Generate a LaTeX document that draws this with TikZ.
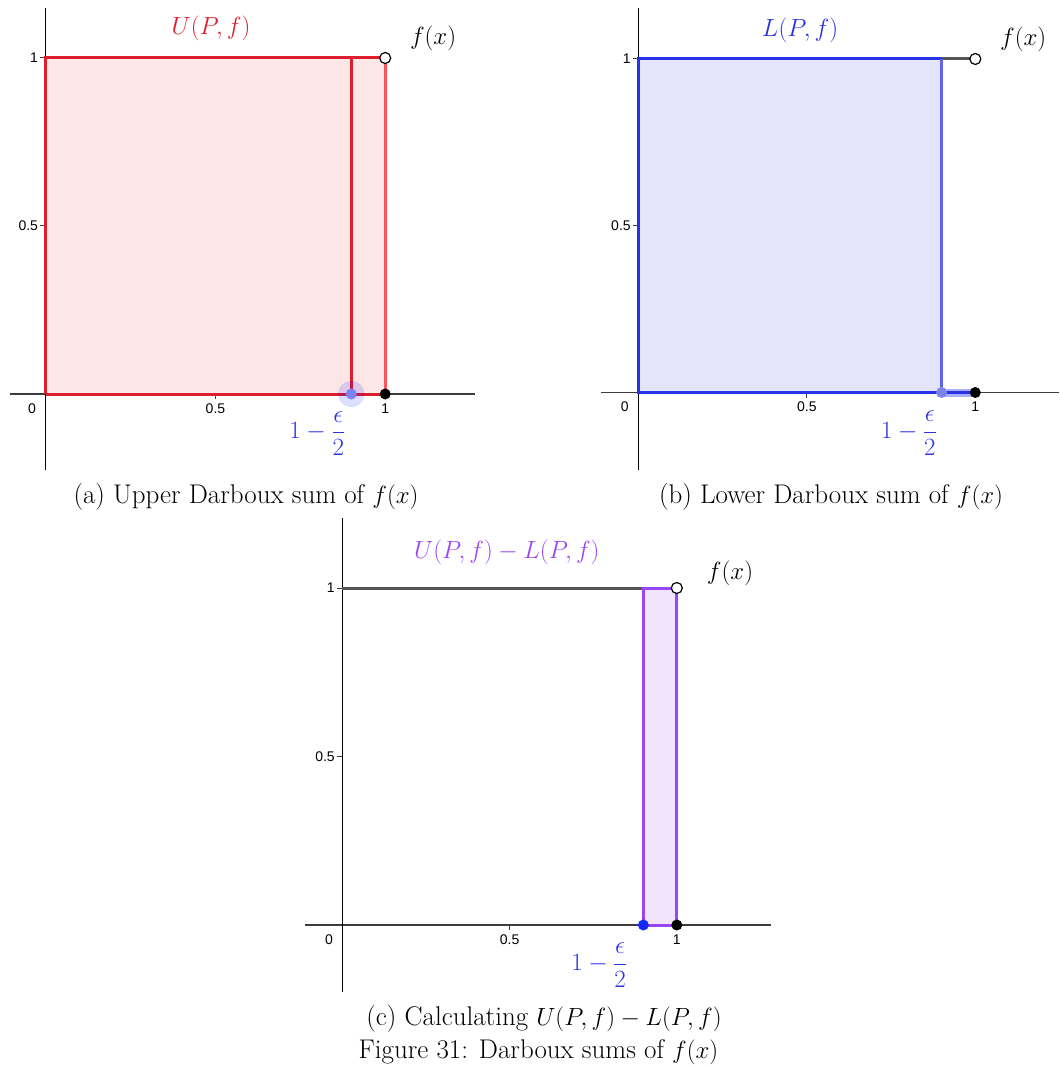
\documentclass[tikz,border=0pt]{standalone}
\usepackage{fontspec}
\newfontfamily\tickfont{Liberation Sans}
\definecolor{axisgray}{RGB}{60,60,60}
\definecolor{fgray}{RGB}{85,85,85}
\definecolor{ured}{RGB}{222,30,45}
\definecolor{ured2}{RGB}{250,85,90}
\definecolor{ufill}{RGB}{253,230,230}
\definecolor{lblue}{RGB}{40,50,230}
\definecolor{lfill}{RGB}{228,228,250}
\definecolor{ptblue}{RGB}{125,130,245}
\definecolor{hblue}{RGB}{170,172,248}
\definecolor{dblue}{RGB}{20,40,245}
\definecolor{purp}{RGB}{155,70,245}
\definecolor{pfill}{RGB}{241,228,252}
\tikzset{
  axisline/.style={draw=axisgray, line width=1.2pt},
  tickmark/.style={draw=axisgray, line width=1pt},
  ticklbl/.style={font=\tickfont\fontsize{14}{14}\selectfont, inner sep=0pt},
  mathlbl/.style={font=\fontsize{25}{27}\selectfont, inner sep=0pt},
  caplbl/.style={font=\fontsize{27}{30}\selectfont, inner sep=0pt},
  dot/.style={circle, inner sep=0pt, minimum size=11pt},
  blackdot/.style={dot, fill=black},
  opendot/.style={dot, draw=black, fill=white, line width=1.2pt},
}
\newcommand{\epsfrac}{$1-\displaystyle\frac{\epsilon}{2}$}
\begin{document}
\begin{tikzpicture}[x=1pt,y=1pt]
\useasboundingbox (0,0) rectangle (1059,-1067);

% ---------------- panel (a) ----------------
\begin{scope}[shift={(45.7pt,-394pt)}, x=339.5pt, y=336pt]
  \coordinate (a00) at (0,0); \coordinate (a01) at (0,1);
  \coordinate (ae0) at (0.9,0); \coordinate (ae1) at (0.9,1);
  \coordinate (a10) at (1,0); \coordinate (a11) at (1,1);
  \fill[ufill] (a00) rectangle (a11);
  \draw[axisline] (-0.105,0) coordinate (axl) -- (1.264,0) coordinate (axr);
  \draw[axisline, line width=1pt, draw=black] (0,-0.226) coordinate (ayb) -- (0,1.149) coordinate (ayt);
  \draw[tickmark] (0,1) -- (-0.016,1);
  \draw[tickmark] (0,0.5) -- (-0.016,0.5);
  \draw[tickmark] (0.5,0) -- (0.5,-0.016);
  \draw[ured2, line width=3pt] (ae1) -- (a11) -- (a10) -- (ae0);
  \draw[ured, line width=3pt] (a00) -- (a01) -- (a11);
  \draw[ured, line width=3pt] (a00) -- (ae0) -- (ae1);
  \draw[ured, line width=3pt] (ae0) -- (a10);
  \node[ticklbl, anchor=east] (at1) at (-0.022,1) {1};
  \node[ticklbl, anchor=east] (at05) at (-0.022,0.5) {0.5};
  \node[ticklbl] (at0) at (-0.04,-0.043) {0};
  \node[ticklbl] (atx05) at (0.5,-0.043) {0.5};
  \node[ticklbl] (atx1) at (1,-0.043) {1};
  \node[circle, fill=blue, fill opacity=0.13, draw=blue, draw opacity=0.08, minimum size=26pt, inner sep=0pt] (ahalo) at (ae0) {};
  \node[dot, fill=ptblue] (ape) at (ae0) {};
  \node[blackdot] (ap1) at (a10) {};
  \node[opendot] (apo) at (a11) {};
  \node[mathlbl, text=ured] (aU) at (0.487,1.087) {$U(P,f)$};
  \node[mathlbl] (afx) at (1.141,1.06) {$f(x)$};
  \node[mathlbl, text=lblue] (aeps) at (0.8,-0.118) {\epsfrac};
\end{scope}
\node[caplbl] (capa) at (246,-497) {(a) Upper Darboux sum of $f(x)$};

% ---------------- panel (b) ----------------
\begin{scope}[shift={(638.3pt,-392.5pt)}, x=337pt, y=333.5pt]
  \coordinate (b00) at (0,0); \coordinate (b01) at (0,1);
  \coordinate (be0) at (0.9,0); \coordinate (be1) at (0.9,1);
  \coordinate (b10) at (1,0); \coordinate (b11) at (1,1);
  \fill[lfill] (b00) rectangle (be1);
  \draw[axisline] (-0.111,0) -- (1.248,0);
  \draw[axisline, line width=1pt, draw=black] (0,-0.233) -- (0,1.153);
  \draw[tickmark] (0,1) -- (-0.016,1);
  \draw[tickmark] (0,0.5) -- (-0.016,0.5);
  \draw[tickmark] (0.5,0) -- (0.5,-0.016);
  \draw[hblue, line width=8pt] (be0) -- (b10);
  \draw[lblue, line width=2.2pt] (be0) -- (b10);
  \draw[fgray, line width=3pt] (be1) -- (b11);
  \draw[lblue, line width=3pt] (be0) -- (b00) -- (b01) -- (be1);
  \draw[lblue!75!white, line width=3pt] (be1) -- (be0);
  \node[ticklbl, anchor=east] (bt1) at (-0.022,1) {1};
  \node[ticklbl, anchor=east] (bt05) at (-0.022,0.5) {0.5};
  \node[ticklbl] (bt0) at (-0.04,-0.043) {0};
  \node[ticklbl] (btx05) at (0.5,-0.043) {0.5};
  \node[ticklbl] (btx1) at (1,-0.043) {1};
  \node[dot, fill=ptblue] (bpe) at (be0) {};
  \node[blackdot] (bp1) at (b10) {};
  \node[opendot] (bpo) at (b11) {};
  \node[mathlbl, text=lblue] (bL) at (0.48,1.087) {$L(P,f)$};
  \node[mathlbl] (bfx) at (1.142,1.06) {$f(x)$};
  \node[mathlbl, text=lblue] (beps) at (0.803,-0.122) {\epsfrac};
\end{scope}
\node[caplbl] (capb) at (831,-497) {(b) Lower Darboux sum of $f(x)$};

% ---------------- panel (c) ----------------
\begin{scope}[shift={(342.3pt,-925pt)}, x=334.5pt, y=337pt]
  \coordinate (c00) at (0,0); \coordinate (c01) at (0,1);
  \coordinate (ce0) at (0.9,0); \coordinate (ce1) at (0.9,1);
  \coordinate (c10) at (1,0); \coordinate (c11) at (1,1);
  \fill[pfill] (ce0) rectangle (c11);
  \draw[axisline] (-0.112,0) -- (1.281,0);
  \draw[axisline, line width=1pt, draw=black] (0,-0.199) -- (0,1.208);
  \draw[tickmark] (0,1) -- (-0.016,1);
  \draw[tickmark] (0,0.5) -- (-0.016,0.5);
  \draw[tickmark] (0.5,0) -- (0.5,-0.016);
  \draw[fgray, line width=3pt] (c01) -- (ce1);
  \draw[purp, line width=3pt] (ce0) rectangle (c11);
  \node[ticklbl, anchor=east] (ct1) at (-0.022,1) {1};
  \node[ticklbl, anchor=east] (ct05) at (-0.022,0.5) {0.5};
  \node[ticklbl] (ct0) at (-0.04,-0.043) {0};
  \node[ticklbl] (ctx05) at (0.5,-0.043) {0.5};
  \node[ticklbl] (ctx1) at (1,-0.043) {1};
  \node[dot, fill=dblue] (cpe) at (ce0) {};
  \node[blackdot] (cp1) at (c10) {};
  \node[opendot] (cpo) at (c11) {};
  \node[mathlbl, text=purp] (cUL) at (0.492,1.107) {$U(P,f)-L(P,f)$};
  \node[mathlbl] (cfx) at (1.159,1.045) {$f(x)$};
  \node[mathlbl, text=lblue] (ceps) at (0.768,-0.12) {\epsfrac};
\end{scope}
\node[caplbl] (capc) at (544,-1019) {(c) Calculating $U(P,f)-L(P,f)$};
\node[caplbl] (fig) at (538.5,-1052) {Figure 31: Darboux sums of $f(x)$};
\end{tikzpicture}
\end{document}
